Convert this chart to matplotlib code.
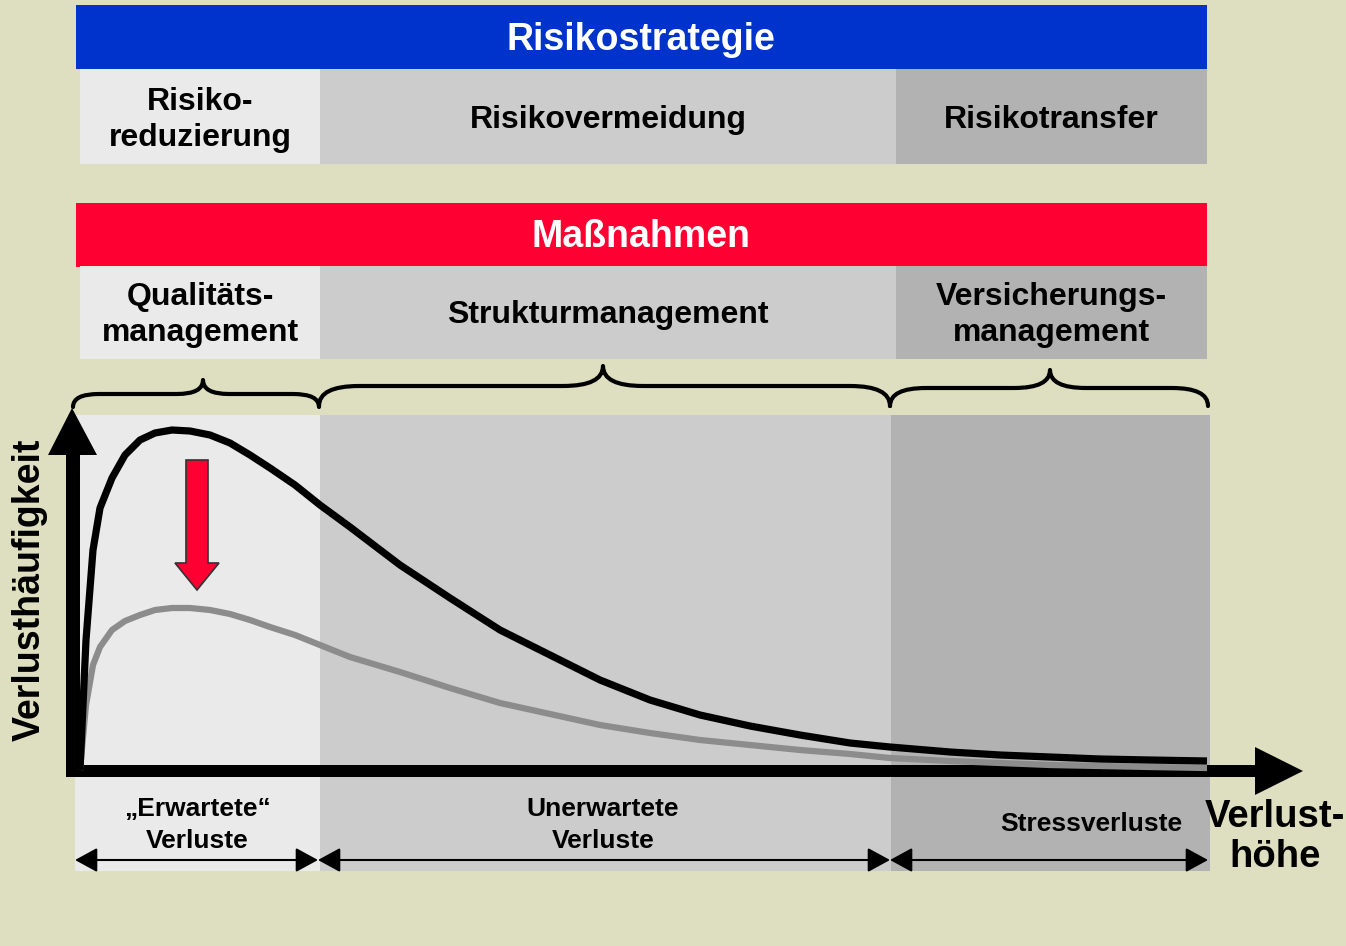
# Risikostrategie / Massnahmen Diagramm

import matplotlib.pyplot as plt
from matplotlib.patches import Rectangle, Polygon, PathPatch
from matplotlib.path import Path

BG = "#DEDEC0"
LIGHT = "#EAEAEA"
MID = "#CCCCCC"
DARK = "#B2B2B2"

# Kategorien
STRATEGIE = ["Risiko-\nreduzierung", "Risikovermeidung", "Risikotransfer"]
MASSNAHMEN = ["Qualitäts-\nmanagement", "Strukturmanagement", "Versicherungs-\nmanagement"]
VERLUSTE = ["\u201eErwartete\u201c\nVerluste", "Unerwartete\nVerluste", "Stressverluste"]

# Kurven
kurve_x = [80, 86, 93, 100, 112, 125, 140, 155, 172, 190, 210, 230, 250, 270, 295, 320, 350,
           400, 450, 500, 550, 600, 650, 700, 750, 800, 850, 890, 950, 1000, 1050, 1100,
           1150, 1207]
kurve_vorher = [770, 640, 550, 508, 478, 455, 440, 433, 430, 431, 435, 443, 455, 468, 485,
                505, 527, 565, 598, 630, 655, 680, 700, 715, 726, 735, 743, 747, 752, 755,
                757, 759, 760, 761]
kurve_nachher = [770, 705, 665, 647, 630, 621, 615, 610, 608, 608, 610, 614, 620, 627, 635,
                 645, 657, 672, 688, 703, 714, 725, 733, 740, 745, 750, 754, 758, 761, 763,
                 765, 766, 767, 768]

FONT = "Liberation Sans"


def brace(ax, x0, x1, xm, ytip, yline, yend):
    r = (yend - yline)
    verts = [(x0, yend), (x0, yline), (x0 + r * 2, yline),
             (xm - r * 2, yline), (xm, yline), (xm, ytip),
             (xm, yline), (xm + r * 2, yline),
             (x1 - r * 2, yline), (x1, yline), (x1, yend)]
    codes = [Path.MOVETO, Path.CURVE3, Path.CURVE3,
             Path.LINETO, Path.CURVE3, Path.CURVE3,
             Path.CURVE3, Path.CURVE3,
             Path.LINETO, Path.CURVE3, Path.CURVE3]
    ax.add_patch(PathPatch(Path(verts, codes), fill=False, lw=3, color="black",
                           capstyle="round", joinstyle="round"))


def main():
    fig = plt.figure(figsize=(13.46, 9.46), dpi=100, facecolor=BG)
    ax = fig.add_axes([0, 0, 1, 1])
    ax.set_xlim(0, 1346)
    ax.set_ylim(946, 0)
    ax.axis("off")
    ax.set_facecolor(BG)

    cols = [(80, 320, LIGHT), (320, 896, MID), (896, 1207, DARK)]

    # Risikostrategie
    ax.add_patch(Rectangle((76, 5), 1131, 64, color="#0033CC", lw=0))
    ax.text(641, 40, "Risikostrategie", color="white", fontsize=27, fontweight="bold",
            ha="center", va="center", family=FONT)
    for (a, b, c), t in zip(cols, STRATEGIE):
        ax.add_patch(Rectangle((a, 69), b - a, 95, color=c, lw=0))
        ax.text((a + b) / 2, 120, t, fontsize=23, fontweight="bold", ha="center",
                va="center", family=FONT, linespacing=1.3)

    # Massnahmen
    ax.add_patch(Rectangle((76, 203), 1131, 64, color="#FF0033", lw=0))
    ax.text(641, 237, "Maßnahmen", color="white", fontsize=27, fontweight="bold",
            ha="center", va="center", family=FONT)
    for (a, b, c), t in zip(cols, MASSNAHMEN):
        ax.add_patch(Rectangle((a, 266), b - a, 93, color=c, lw=0))
        ax.text((a + b) / 2, 315, t, fontsize=23, fontweight="bold", ha="center",
                va="center", family=FONT, linespacing=1.3)

    # Klammern
    brace(ax, 73, 319, 203, 380, 394, 407)
    brace(ax, 319, 890, 603, 366, 386, 406)
    brace(ax, 890, 1208, 1050, 370, 388, 406)

    # Diagrammbereich
    areas = [(75, 320, LIGHT), (320, 891, MID), (891, 1210, DARK)]
    for a, b, c in areas:
        ax.add_patch(Rectangle((a, 415), b - a, 456, color=c, lw=0))

    # Kurven
    ax.plot(kurve_x, kurve_nachher, color="#8C8C8C", lw=4.5, solid_capstyle="butt",
            solid_joinstyle="round")
    ax.plot(kurve_x, kurve_vorher, color="black", lw=5.2, solid_capstyle="butt",
            solid_joinstyle="round")

    # Achsen
    ax.add_patch(Rectangle((66, 452), 14, 322, color="black", lw=0))
    ax.add_patch(Polygon([(48, 455), (97, 455), (72, 408)], color="black", lw=0))
    ax.add_patch(Rectangle((66, 765), 1192, 12, color="black", lw=0))
    ax.add_patch(Polygon([(1255, 747), (1255, 795), (1303, 771)], color="black", lw=0))

    # roter Pfeil
    ax.add_patch(Polygon([(186, 460), (208, 460), (208, 563), (219, 563), (197, 590),
                          (175, 563), (186, 563)], facecolor="#FF0033",
                         edgecolor="#333333", lw=1.2))

    # Beschriftungen
    ax.text(30, 590, "Verlusthäufigkeit", rotation=90, fontsize=27, fontweight="bold",
            ha="center", va="center", family=FONT)
    ax.text(1275, 837, "Verlust-\nhöhe", fontsize=27.5, fontweight="bold",
            ha="center", va="center", family=FONT, linespacing=1.15)

    label_pos = [(197, 825), (603, 825), (1091, 824)]
    for (x, y), t in zip(label_pos, VERLUSTE):
        ax.text(x, y, t, fontsize=19, fontweight="bold", ha="center", va="center",
                family=FONT, linespacing=1.4)

    # Doppelpfeile
    for a, b in [(75, 318), (318, 890), (890, 1208)]:
        ax.annotate("", xy=(a, 860), xytext=(b, 860),
                    arrowprops=dict(arrowstyle="<|-|>,head_length=0.55,head_width=0.3",
                                    color="black", lw=1.5,
                                    mutation_scale=25, shrinkA=0, shrinkB=0))

    fig.savefig("out.png", dpi=100, facecolor=BG)


if __name__ == "__main__":
    main()
